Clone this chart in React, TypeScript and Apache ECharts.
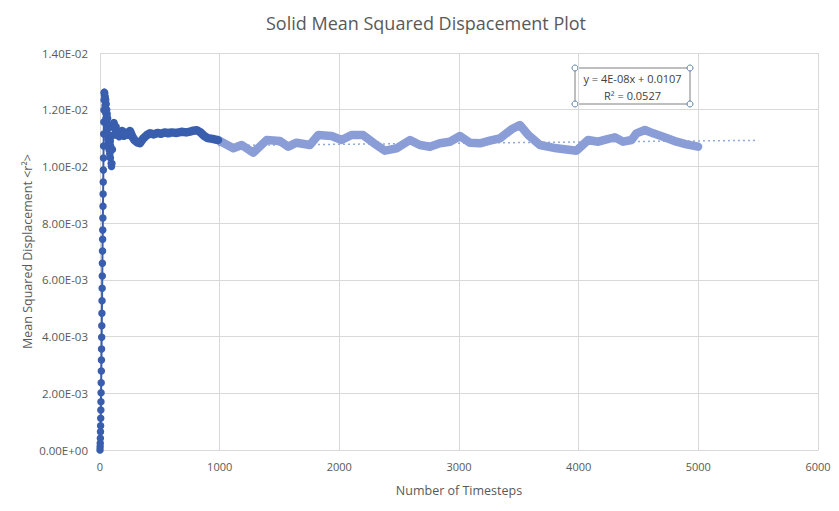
import React, { useEffect, useRef } from "react";
import * as echarts from "echarts";

// Rise + early oscillation (dark, discrete markers)
const riseT = [0, 1, 2, 3, 4, 5, 6, 7, 8, 9, 10, 11, 12, 13, 14, 15, 16, 17, 18, 19, 20, 21, 22, 23, 24, 25, 26, 27, 28, 29, 30, 31, 32, 33, 34, 35,
  36, 38, 40, 42, 44, 46, 48, 50, 52, 54, 56, 58, 60, 62, 64, 66, 68, 70, 72, 75, 78, 81, 84, 87, 90, 93, 96, 100, 104, 108, 112, 116, 120, 125,
  130, 135, 140, 150, 160, 170];
const riseV = [0, 0.000116, 0.000236, 0.000413, 0.000645, 0.000857, 0.001118, 0.001411, 0.001703, 0.002021, 0.002373, 0.002786, 0.003174, 0.003562,
  0.003974, 0.004383, 0.004821, 0.005265, 0.005702, 0.006136, 0.006584, 0.007018, 0.00743, 0.007758, 0.00818, 0.0086, 0.00903, 0.00945, 0.00987,
  0.0103, 0.01072, 0.01114, 0.01157, 0.01199, 0.01234, 0.01259,
  0.01262, 0.0125, 0.01258, 0.01215, 0.01245, 0.0119, 0.01235, 0.0117, 0.0122, 0.0115, 0.012, 0.0113, 0.01185, 0.0111, 0.0117, 0.01095, 0.0115,
  0.0108, 0.01135, 0.0106, 0.0111, 0.01045, 0.0109, 0.0103, 0.0107, 0.0101, 0.01, 0.0101, 0.0106, 0.0111, 0.01145, 0.01155, 0.0115, 0.0113,
  0.0112, 0.0114, 0.0111, 0.01125, 0.01105, 0.01115];

// Dark plateau (thick band)
const plateauT = [170, 185, 200, 215, 230, 250, 270, 290, 310, 334, 360, 390, 418, 450, 480, 510, 540, 570, 600, 640, 680, 720, 752, 780, 808, 840, 870, 900, 940, 986];
const plateauV = [0.01115, 0.01125, 0.01108, 0.0112, 0.01112, 0.01125, 0.01105, 0.01092, 0.01085, 0.01082, 0.01098, 0.0111, 0.01117, 0.01113, 0.01118,
  0.01115, 0.0112, 0.01117, 0.0112, 0.01118, 0.01122, 0.0112, 0.01123, 0.01126, 0.01128, 0.0112, 0.01108, 0.011, 0.01097, 0.01093];

// Light series (thick band)
const lightT = [986, 1114, 1184, 1281, 1393, 1504, 1573, 1642, 1754, 1824, 1935, 2018, 2102, 2199, 2283, 2381, 2478, 2590, 2673, 2757, 2840, 2924,
  3008, 3091, 3175, 3258, 3342, 3439, 3509, 3579, 3676, 3815, 3982, 4079, 4163, 4233, 4302, 4372, 4442, 4483, 4553, 4623, 4706, 4818, 4901, 4998];
const lightV = [0.010932, 0.010639, 0.010755, 0.010484, 0.010932, 0.010896, 0.010696, 0.010837, 0.010755, 0.011108, 0.011073, 0.010932, 0.011108,
  0.011108, 0.010837, 0.010555, 0.010639, 0.010932, 0.010755, 0.010696, 0.010815, 0.010872, 0.011073, 0.010837, 0.010815, 0.010907, 0.010992,
  0.011309, 0.011461, 0.011108, 0.010755, 0.010639, 0.010555, 0.010932, 0.010872, 0.010955, 0.011026, 0.010872, 0.010932, 0.011167, 0.011285,
  0.011167, 0.011049, 0.010872, 0.010779, 0.010696];

// Trendline (from displayed equation)
const trendSlope = 4e-8;
const trendIntercept = 0.0107;
const trendT = [986, 5500];

const DARK = "#3A5EAE";
const LIGHT = "#8A9DD6";
const TXT = "#595959";
const FONT = "'Open Sans', 'Noto Sans', sans-serif";

function sci(v: number): string {
  if (v === 0) return "0.00E+00";
  const e = Math.floor(Math.log10(Math.abs(v)) + 1e-9);
  const m = v / Math.pow(10, e);
  const sign = e < 0 ? "-" : "+";
  const ae = Math.abs(e);
  return m.toFixed(2) + "E" + sign + (ae < 10 ? "0" + ae : String(ae));
}

const zip = (a: number[], b: number[]) => a.map((t, i) => [t, b[i]]);

export default function App() {
  const ref = useRef<HTMLDivElement>(null);
  useEffect(() => {
    document.body.style.margin = "0";
    if (!ref.current) return;
    const chart = echarts.init(ref.current, null, { renderer: "svg" });
    const corner = (cx: number, cy: number) => ({
      type: "circle",
      shape: { cx, cy, r: 3 },
      style: { fill: "#ffffff", stroke: "#5B7FA6", lineWidth: 1 },
    });
    const option: any = {
      animation: false,
      backgroundColor: "#ffffff",
      title: {
        text: "Solid Mean Squared Dispacement Plot",
        left: 261,
        top: 9,
        textStyle: { fontFamily: FONT, fontSize: 18, fontWeight: "normal", color: TXT },
      },
      grid: { left: 100, right: 21, top: 53, bottom: 61, containLabel: false },
      xAxis: {
        type: "value",
        min: 0,
        max: 6000,
        interval: 1000,
        name: "Number of Timesteps",
        nameLocation: "middle",
        nameGap: 34,
        nameMoveOverlap: false,
        nameTextStyle: { fontFamily: FONT, fontSize: 12.5, color: TXT },
        axisLine: { show: true, lineStyle: { color: "#D9D9D9" } },
        axisTick: { show: false },
        axisLabel: { fontFamily: FONT, fontSize: 11, color: TXT, margin: 11, formatter: (v: number) => String(v) },
        splitLine: { show: true, lineStyle: { color: "#D9D9D9" } },
      },
      yAxis: {
        type: "value",
        min: 0,
        max: 0.014,
        interval: 0.002,
        name: "Mean Squared Displacement <r\u00B2>",
        nameLocation: "middle",
        nameGap: 66,
        nameMoveOverlap: false,
        nameTextStyle: { fontFamily: FONT, fontSize: 12.5, color: TXT },
        axisLine: { show: false },
        axisTick: { show: false },
        axisLabel: { fontFamily: FONT, fontSize: 11.5, color: TXT, margin: 12, formatter: (v: number) => sci(v) },
        splitLine: { show: true, lineStyle: { color: "#D9D9D9" } },
      },
      series: [
        {
          type: "line",
          data: trendT.map((t) => [t, trendSlope * t + trendIntercept]),
          showSymbol: false,
          lineStyle: { color: "#8FAADC", width: 1.5, type: [2, 3] },
          z: 1,
        },
        {
          type: "line",
          data: zip(lightT, lightV),
          showSymbol: false,
          lineStyle: { color: LIGHT, width: 8.5, cap: "round", join: "round" },
          z: 2,
        },
        {
          type: "line",
          data: zip(plateauT, plateauV),
          showSymbol: false,
          lineStyle: { color: DARK, width: 8.5, cap: "round", join: "round" },
          z: 3,
        },
        {
          type: "line",
          data: zip(riseT, riseV),
          symbol: "circle",
          symbolSize: 7.5,
          showAllSymbol: true,
          itemStyle: { color: DARK },
          lineStyle: { color: DARK, width: 2 },
          z: 4,
        },
      ],
      graphic: [
        {
          type: "group",
          x: 575,
          y: 68,
          children: [
            { type: "rect", shape: { x: 0, y: 0, width: 115, height: 36 }, style: { fill: "#ffffff", stroke: "#7F7F7F", lineWidth: 1 } },
            { type: "text", x: 57.5, y: 10, style: { text: "y = 4E-08x + 0.0107", fontFamily: FONT, fontSize: 11, fill: "#404040", align: "center", verticalAlign: "middle" } },
            { type: "text", x: 57.5, y: 27, style: { text: "R\u00B2 = 0.0527", fontFamily: FONT, fontSize: 11, fill: "#404040", align: "center", verticalAlign: "middle" } },
            corner(0, 0),
            corner(115, 0),
            corner(0, 36),
            corner(115, 36),
          ],
        },
      ],
    };
    chart.setOption(option);
    return () => chart.dispose();
  }, []);
  return <div ref={ref} style={{ width: 839, height: 511 }} />;
}
